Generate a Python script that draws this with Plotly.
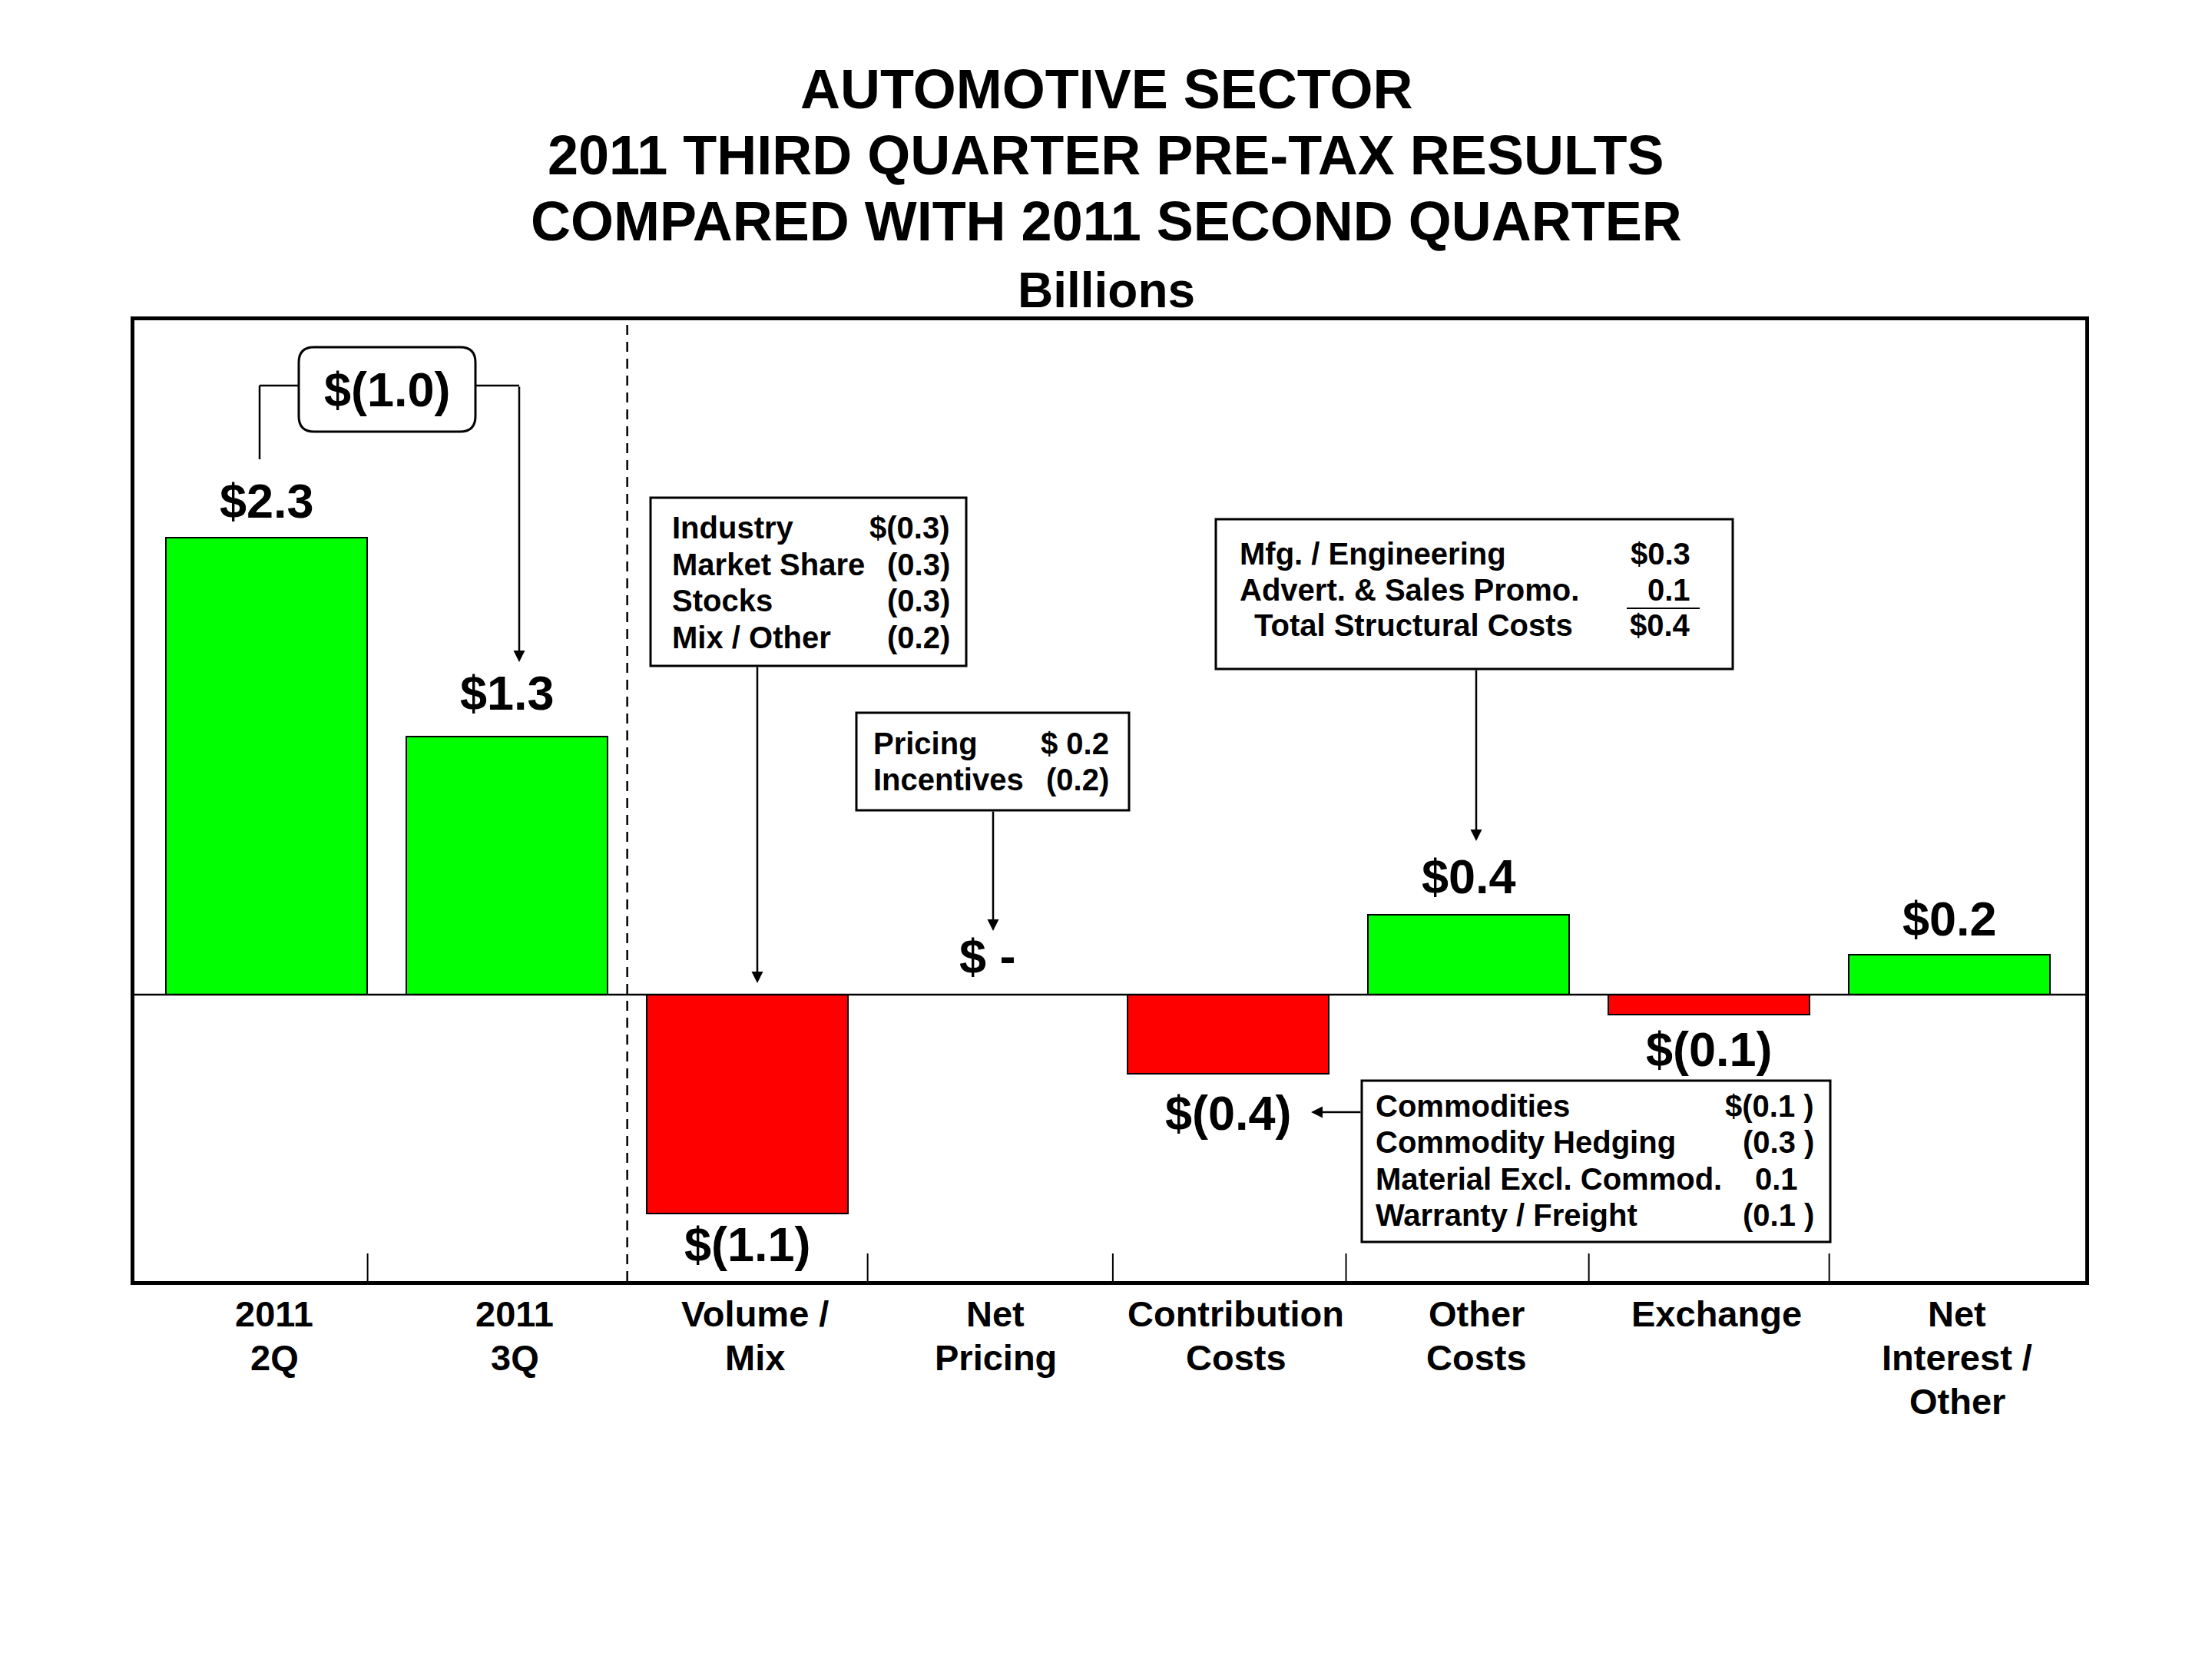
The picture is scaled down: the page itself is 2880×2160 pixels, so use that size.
import plotly.graph_objects as go

# ---------------- data ----------------
categories = ["2011<br>2Q", "2011<br>3Q", "Volume /<br>Mix", "Net<br>Pricing",
              "Contribution<br>Costs", "Other<br>Costs", "Exchange",
              "Net<br>Interest /<br>Other"]
values = [2.3, 1.3, -1.1, 0.0, -0.4, 0.4, -0.1, 0.2]
value_labels = ["$2.3", "$1.3", "$(1.1)", "$ -", "$(0.4)", "$0.4", "$(0.1)", "$0.2"]

title_lines = ["AUTOMOTIVE SECTOR",
               "2011 THIRD QUARTER PRE-TAX RESULTS",
               "COMPARED WITH 2011 SECOND QUARTER"]
subtitle = "Billions"
change_label = "$(1.0)"

volume_items = ["Industry", "Market Share", "Stocks", "Mix / Other"]
volume_values = ["$(0.3)", "(0.3)", "(0.3)", "(0.2)"]
pricing_items = ["Pricing", "Incentives"]
pricing_values = ["$ 0.2", "(0.2)"]
structural_items = ["Mfg. / Engineering", "Advert. & Sales Promo.", "Total Structural Costs"]
structural_values = ["$0.3", "0.1", "$0.4"]
contribution_items = ["Commodities", "Commodity Hedging", "Material Excl. Commod.", "Warranty / Freight"]
contribution_values = ["$(0.1 )", "(0.3 )", "0.1", "(0.1 )"]

# ---------------- layout constants ----------------
# page body has an 8px margin; the figure is shrunk/shifted to compensate
OFF = 8
W, H = 2880 - 2 * OFF, 2160 - 2 * OFF
PL, PR, PT, PB = 175, 2715, 417, 1668          # plot area in page pixels
ML, MR, MT, MB = PL - OFF, W - (PR - OFF), PT - OFF, H - (PB - OFF)
X_RANGE = [-0.55, 7.565]
Y_RANGE = [-1.442, 3.393]
FONT = "Liberation Sans, Arial, Helvetica, sans-serif"
GREEN, RED = "#00FF00", "#FF0000"
label_gap = [48, 57, 40, 50, 51, 50, 45, 47]
tick_marks = [0.42, 2.5, 3.52, 4.49, 5.5, 6.5]


def px(x):
    return (x - PL) / (PR - PL)


def py(y):
    return (PB - y) / (PB - PT)


annotations = []
shapes = []


def text(x, y, s, size, xanchor="center", xref="paper", yref="paper", yshift=0, xshift=0):
    annotations.append(dict(
        x=x, y=y, xref=xref, yref=yref, text=s, showarrow=False,
        xanchor=xanchor, yanchor="middle", yshift=yshift, xshift=xshift,
        font=dict(family=FONT, size=size, color="black", weight="bold")))


def rect(x0, y0, x1, y1, w=3):
    shapes.append(dict(type="rect", xref="paper", yref="paper",
                       x0=px(x0), x1=px(x1), y0=py(y1), y1=py(y0),
                       line=dict(color="black", width=w), fillcolor="white", layer="above"))


def seg(x0, y0, x1, y1, w=2.5):
    shapes.append(dict(type="line", xref="paper", yref="paper",
                       x0=px(x0), x1=px(x1), y0=py(y0), y1=py(y1),
                       line=dict(color="black", width=w), layer="above"))


def arrow(tipx, tipy, tailx, taily):
    annotations.append(dict(
        x=px(tipx), y=py(tipy), xref="paper", yref="paper",
        ax=tailx - tipx, ay=taily - tipy, axref="pixel", ayref="pixel",
        text="", showarrow=True, arrowhead=2, arrowsize=1.2, arrowwidth=2.5,
        arrowcolor="black", standoff=0, startstandoff=0))


def rrect(x0, y0, x1, y1, r, w=3):
    X, Y = px, py
    path = (f"M {X(x0 + r)},{Y(y0)} L {X(x1 - r)},{Y(y0)} "
            f"Q {X(x1)},{Y(y0)} {X(x1)},{Y(y0 + r)} L {X(x1)},{Y(y1 - r)} "
            f"Q {X(x1)},{Y(y1)} {X(x1 - r)},{Y(y1)} L {X(x0 + r)},{Y(y1)} "
            f"Q {X(x0)},{Y(y1)} {X(x0)},{Y(y1 - r)} L {X(x0)},{Y(y0 + r)} "
            f"Q {X(x0)},{Y(y0)} {X(x0 + r)},{Y(y0)} Z")
    shapes.append(dict(type="path", xref="paper", yref="paper", path=path,
                       line=dict(color="black", width=w), fillcolor="white", layer="above"))


# ---------------- bars ----------------
colors = [GREEN if v > 0 else RED for v in values]
fig = go.Figure(go.Bar(
    x=list(range(len(categories))), y=values, width=0.837,
    marker=dict(color=colors, line=dict(color="black", width=2)),
    hoverinfo="skip"))

# zero line, dashed divider, bottom tick marks
shapes.append(dict(type="line", xref="paper", yref="y", x0=0, x1=1, y0=0, y1=0,
                   line=dict(color="black", width=2.5), layer="above"))
shapes.append(dict(type="line", xref="x", yref="paper", x0=1.5, x1=1.5, y0=0, y1=1,
                   line=dict(color="black", width=2.5, dash="13px,9px"), layer="above"))
for t in tick_marks:
    shapes.append(dict(type="line", xref="x", yref="paper", x0=t, x1=t, y0=0, y1=py(1632),
                       line=dict(color="black", width=2), layer="above"))

# titles
for k, ln in enumerate(title_lines):
    text(px(1440), py(116 + 86 * k), ln, 72)
text(px(1440), py(378), subtitle, 64)

# value labels
for i, (v, lab) in enumerate(zip(values, value_labels)):
    sgn = 1 if v >= 0 else -1
    text(i, v, lab, 63, xref="x", yref="y", yshift=sgn * label_gap[i])

# category labels
for i, cat in enumerate(categories):
    for j, ln in enumerate(cat.split("<br>")):
        text(i, py(1710 + 57 * j), ln, 47, xref="x", xshift=10)

# $(1.0) change callout
rrect(389, 452, 619, 562, 20)
text(px(504), py(507), change_label, 63)
seg(389, 502, 338, 502)
seg(338, 502, 338, 598)
seg(619, 502, 676, 502)
arrow(676, 862, 676, 502)

# Volume / Mix callout
rect(847, 648, 1258, 867)
for j, (a, b) in enumerate(zip(volume_items, volume_values)):
    yy = 687 + 47.7 * j
    text(px(873), py(yy), a, 40, xanchor="left")
    text(px(1239), py(yy), b, 40, xanchor="right")
arrow(986, 1280, 986, 867)

# Net Pricing callout
rect(1115, 928, 1470, 1055)
for j, (a, b) in enumerate(zip(pricing_items, pricing_values)):
    yy = 968 + 47 * j
    text(px(1135), py(yy), a, 40, xanchor="left")
    text(px(1446), py(yy), b, 40, xanchor="right")
arrow(1293, 1212, 1293, 1055)

# Other costs callout
rect(1583, 676, 2256, 871)
for j, (a, b) in enumerate(zip(structural_items, structural_values)):
    yy = 721 + 46.5 * j
    text(px(1612 if j < 2 else 1631), py(yy), a, 40, xanchor="left")
    text(px(2203), py(yy), b, 40, xanchor="right")
seg(2118, 792, 2213, 792, w=2)
arrow(1922, 1095, 1922, 871)

# Contribution costs callout
rect(1773, 1407, 2383, 1617)
for j, (a, b) in enumerate(zip(contribution_items, contribution_values)):
    yy = 1440 + 47.3 * j
    text(px(1789), py(yy), a, 40, xanchor="left")
    text(px(2364 if "(" in b else 2343), py(yy), b, 40, xanchor="right")
arrow(1707, 1448, 1773, 1448)

fig.update_layout(
    width=W, height=H, autosize=False,
    margin=dict(l=ML, r=MR, t=MT, b=MB, pad=0),
    paper_bgcolor="white", plot_bgcolor="white",
    showlegend=False, bargap=0,
    shapes=shapes, annotations=annotations,
    font=dict(family=FONT, color="black"),
)
fig.update_xaxes(range=X_RANGE, showgrid=False, zeroline=False, showticklabels=False,
                 ticks="", showline=True, mirror=True, linecolor="black", linewidth=4.5,
                 fixedrange=True)
fig.update_yaxes(range=Y_RANGE, showgrid=False, zeroline=False, showticklabels=False,
                 ticks="", showline=True, mirror=True, linecolor="black", linewidth=4.5,
                 fixedrange=True)

fig.write_html("out.html")
